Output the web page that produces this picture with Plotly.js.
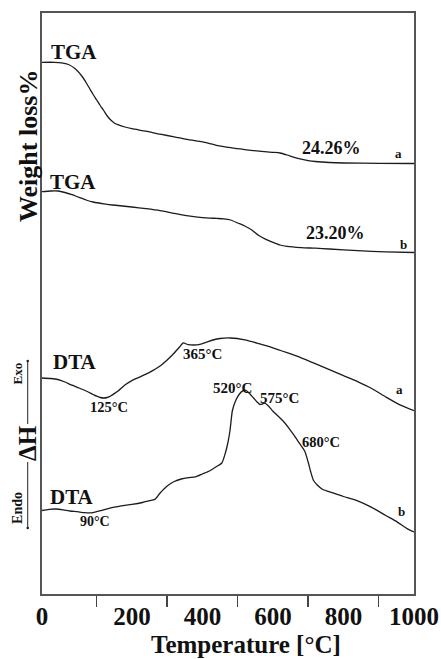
<!DOCTYPE html>
<html>
<head>
<meta charset="utf-8">
<script src="https://cdn.plot.ly/plotly-3.0.1.min.js"></script>
<style>html,body{margin:0;padding:0;background:#fff;}#chart{width:441px;height:659px;}</style>
</head>
<body>
<div id="chart"></div>
<script>
// Temperature (°C) and signal (arbitrary units, vertically offset curves)
const tgaA_T = [-55,-20,0,20,40,60,70,80,90,100,110,120,130,140,150,160,180,200,240,280,320,360,400,440,480,520,560,600,620,640,660,680,700,720,760,800,900,1000];
const tgaA_Y = [531.7,531.7,531.2,529.5,525,517,511.5,505.5,499.5,494,488.5,483.5,478,474,471,469.4,467,465.3,462.8,459.8,457.2,454.3,452.1,448.7,446.3,444.4,442.8,441.7,441,439,436.7,434.8,433.4,432.5,431.5,431,430.7,430.5];

const tgaB_T = [-55,-30,-10,10,30,50,70,90,120,160,200,240,280,320,360,400,440,460,480,500,520,540,560,580,600,620,640,680,720,760,840,920,1000];
const tgaB_Y = [402.3,403,403,401.5,399.3,396.6,394,392,390.2,388.5,387,385.3,383.3,380.6,378.1,376.4,375.6,375.2,374,371,368,364,358.5,354.7,351.7,349,347.6,346.4,345.8,345,343.3,342.1,341.5];

const dtaA_T = [-55,-30,-10,10,30,50,70,90,100,110,120,130,140,150,160,180,200,220,240,260,280,300,320,335,345,360,375,390,410,430,450,480,520,560,600,640,680,720,760,800,840,880,920,960,1000];
const dtaA_Y = [216,215.5,214.5,212,208.8,206,203,199.5,197.8,196.5,196,196.5,198,200.4,202.7,209,213.4,216.6,219.8,223.6,228,234,241,247,251,249.3,249,249.3,251.6,254,255.5,256,254.2,250.4,246.2,241.3,236.2,230.4,224.3,218.3,212.4,205.5,197,189.1,183.4];

const dtaB_T = [-55,-35,-15,5,25,45,65,85,100,115,130,150,170,200,230,250,265,280,300,320,340,360,380,400,420,440,455,465,472,478,485,495,505,515,522,530,545,555,563,570,577,585,600,615,630,645,660,675,690,700,707,715,725,740,770,800,840,880,920,950,980,1000];
const dtaB_Y = [83.5,84.7,85,84.2,83,82.3,81.4,81.2,82.3,83.6,85.2,86.9,88.2,89.6,91.5,93.3,94.6,101,108,112.5,115,116.3,117.1,120,123,127.5,131,141,151,163,183.5,194,200,203.3,203.8,201.8,196,192,189.5,190,190.8,188.7,182.8,177.7,172.5,165.9,158.6,150.8,143,131.7,122.3,113.5,109.3,104.8,101.1,97.5,93.2,86.7,78.5,72.6,65.4,62];

const tickVals = [-55,200,400,600,800,1000];
const tickText = ["0","200","400","600","800","1000"];
const minorTicks = [100,300,500,700,900];

const serif = "Liberation Serif, Times New Roman, serif";
const lineStyle = {color:"#1c1c1c", width:1.3, shape:"spline", smoothing:0.6};

const traces = [
  {x:tgaA_T, y:tgaA_Y, name:"TGA a"},
  {x:tgaB_T, y:tgaB_Y, name:"TGA b"},
  {x:dtaA_T, y:dtaA_Y, name:"DTA a"},
  {x:dtaB_T, y:dtaB_Y, name:"DTA b"}
].map(t => Object.assign(t, {mode:"lines", line:lineStyle, hoverinfo:"skip"}));

function lab(text, x, y, size, extra) {
  return Object.assign({text:text, x:x, y:y, xref:"x", yref:"y", showarrow:false,
    xanchor:"center", yanchor:"middle",
    font:{family:serif, size:size, color:"#111", weight:"bold"}}, extra || {});
}

const annotations = [
  lab("TGA", 35.8, 542, 21),
  lab("TGA", 34.3, 412, 21),
  lab("24.26%", 767, 446.5, 18),
  lab("a", 956, 440.5, 13),
  lab("23.20%", 776, 361.5, 18),
  lab("b", 971, 350, 13),
  lab("DTA", 38.6, 232.5, 21),
  lab("365°C", 400, 240, 15),
  lab("125°C", 133.6, 187, 14.5),
  lab("a", 960, 205, 13),
  lab("520°C", 484, 206.5, 15),
  lab("575°C", 618.6, 196, 15),
  lab("680°C", 736, 152, 14.5),
  lab("DTA", 30.1, 97, 21),
  lab("90°C", 95.3, 72.5, 14),
  lab("b", 965, 83, 13),
  lab("Weight loss%", -0.0376, 448, 26, {xref:"paper", textangle:-90}),
  lab("ΔH", -0.0403, 151, 25, {xref:"paper", textangle:-90}),
  lab("Exo", -0.0685, 220, 13, {xref:"paper", textangle:-90}),
  lab("Endo", -0.0675, 86, 14, {xref:"paper", textangle:-90}),
  lab("Temperature [°C]", 0.548, -0.087, 25, {xref:"paper", yref:"paper"})
];

function dot(y) {
  return {type:"circle", xref:"paper", yref:"y", xsizemode:"pixel", ysizemode:"pixel",
    xanchor:-0.0384, yanchor:y, x0:-1.3, x1:1.3, y0:-1.3, y1:1.3,
    fillcolor:"#222", line:{width:0}};
}

const shapes = [
  {type:"line", xref:"paper", yref:"y", x0:-0.0384, x1:-0.0384, y0:233, y1:170, line:{color:"#222", width:1}},
  {type:"line", xref:"paper", yref:"y", x0:-0.0384, x1:-0.0384, y0:132, y1:66, line:{color:"#222", width:1}},
  dot(233), dot(66)
];

const layout = {
  width:441, height:659,
  margin:{l:42, r:27, t:13, b:65},
  paper_bgcolor:"#fff", plot_bgcolor:"#fff",
  showlegend:false,
  xaxis:{
    range:[-55,1000], showgrid:false, zeroline:false,
    showline:true, mirror:true, linecolor:"#555", linewidth:1.6,
    tickmode:"array", tickvals:tickVals, ticktext:tickText,
    ticks:"outside", ticklen:11, tickcolor:"rgba(0,0,0,0)",
    ticklabelstandoff:-12,
    tickfont:{family:serif, size:25, color:"#111", weight:"bold"},
    minor:{tickmode:"array", tickvals:minorTicks, ticks:"outside", ticklen:11, tickwidth:1.5, tickcolor:"#444", showgrid:false}
  },
  yaxis:{
    range:[0,581], showgrid:false, zeroline:false, showticklabels:false, ticks:"",
    showline:true, mirror:true, linecolor:"#555", linewidth:1.6
  },
  annotations:annotations,
  shapes:shapes
};

Plotly.newPlot("chart", traces, layout, {staticPlot:true, displayModeBar:false});
</script>
</body>
</html>
